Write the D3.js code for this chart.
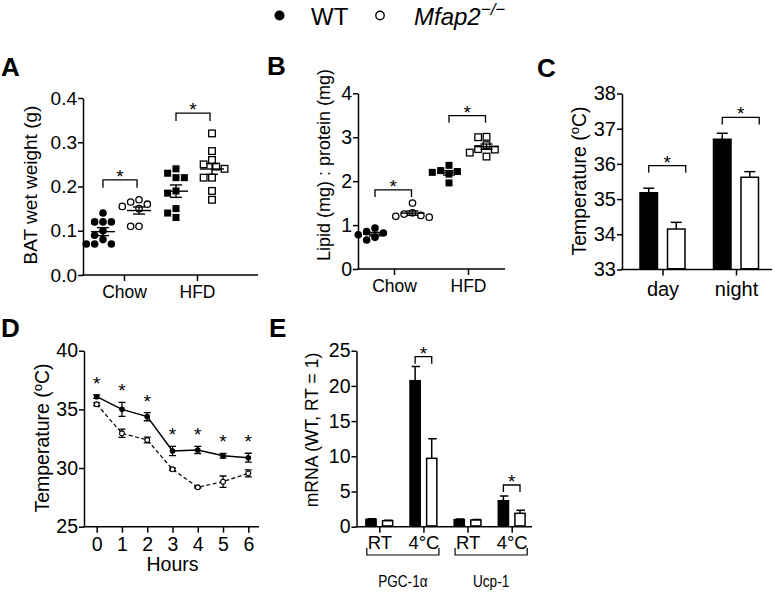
<!DOCTYPE html>
<html><head><meta charset="utf-8">
<script src="https://cdn.jsdelivr.net/npm/d3@7"></script>
<style>
body{margin:0;background:#fff}
svg{display:block}
text{font-family:"Liberation Sans",Arial,Helvetica,sans-serif;fill:#000}
</style>
</head><body>
<svg id="c" width="774" height="593"></svg>
<script>
// ---------------- DATA ----------------
const seriesNames = ["WT", "Mfap2-/-"];
// Panel A: BAT wet weight (g)
const A_groups = ["Chow", "HFD"];
const A_ticks = [0, 0.1, 0.2, 0.3, 0.4];
const A_WT_Chow = [0.14, 0.12, 0.12, 0.12, 0.10, 0.09, 0.08, 0.07, 0.07, 0.07];
const A_KO_Chow = [0.17, 0.165, 0.16, 0.155, 0.15, 0.11, 0.11];
const A_WT_HFD = [0.24, 0.23, 0.22, 0.22, 0.19, 0.185, 0.15, 0.14, 0.13];
const A_KO_HFD = [0.32, 0.28, 0.26, 0.25, 0.245, 0.24, 0.22, 0.22, 0.19, 0.17];
const A_sem = [0.009, 0.008, 0.014, 0.012];      // WT Chow, KO Chow, WT HFD, KO HFD
const A_sigLevel = [0.215, 0.366];
// Panel B: Lipid : protein
const B_groups = ["Chow", "HFD"];
const B_ticks = [0, 1, 2, 3, 4];
const B_WT_Chow = [0.93, 0.85, 0.82, 0.78, 0.72, 0.66];
const B_KO_Chow = [1.5, 1.28, 1.25, 1.22, 1.2, 1.18];
const B_WT_HFD = [2.36, 2.24, 2.22, 2.2, 2.16, 1.96];
const B_KO_HFD = [3.01, 3.0, 2.82, 2.73, 2.72, 2.65, 2.56];
const B_sem = [0.04, 0.05, 0.05, 0.06];
const B_sigLevel = [1.8, 3.49];
// Panel C: Temperature day / night
const C_cats = ["day", "night"];
const C_ticks = [33, 34, 35, 36, 37, 38];
const C_WT = [35.18, 36.70];
const C_WT_err = [0.13, 0.17];
const C_KO = [34.15, 35.62];
const C_KO_err = [0.19, 0.16];
const C_sigLevel = [35.95, 37.32];
// Panel D: Temperature over hours in cold
const D_hours = [0, 1, 2, 3, 4, 5, 6];
const D_ticks = [25, 30, 35, 40];
const D_WT = [36.08, 35.0, 34.38, 31.45, 31.54, 31.05, 30.88];
const D_WT_err = [0.15, 0.6, 0.35, 0.4, 0.3, 0.2, 0.38];
const D_KO = [35.43, 32.96, 32.39, 29.89, 28.36, 28.84, 29.55];
const D_KO_err = [0.12, 0.35, 0.25, 0.1, 0.06, 0.48, 0.3];
// Panel E: mRNA
const E_genes = ["PGC-1\u03b1", "Ucp-1"];
const E_conds = ["RT", "4\u00b0C"];
const E_ticks = [0, 5, 10, 15, 20, 25];
const E_WT = [1.05, 20.74, 1.0, 3.69];
const E_WT_err = [0.08, 2.0, 0.08, 0.67];
const E_KO = [0.85, 9.71, 0.95, 1.9];
const E_KO_err = [0.08, 2.8, 0.08, 0.45];
const E_sig = [1, 3];              // index of bars with significance
const E_sigLevel = [24.15, 5.92];

// ---------------- HELPERS ----------------
const svg = d3.select("#c");
const SW = 1.5;

function styleAxis(g, fs) {
  g.selectAll("path.domain").attr("stroke", "#000").attr("stroke-width", SW);
  g.selectAll(".tick line").attr("stroke", "#000").attr("stroke-width", SW);
  g.selectAll(".tick text").attr("font-size", fs).attr("fill", "#000")
    .attr("font-family", '"Liberation Sans",Arial,sans-serif');
}
function yAxis(x, y, ticks, fmt, fs) {
  const g = svg.append("g").attr("transform", `translate(${x},0)`)
    .call(d3.axisLeft(y).tickValues(ticks).tickFormat(fmt).tickSize(5).tickPadding(1).tickSizeOuter(0));
  styleAxis(g, fs);
  return g;
}
function xAxis(x0, x1, yPos, scale, fmt, fs, pad) {
  const g = svg.append("g").attr("transform", `translate(0,${yPos})`)
    .call(d3.axisBottom(scale).tickFormat(fmt).tickSize(6).tickPadding(pad).tickSizeOuter(0));
  g.select("path.domain").remove();
  styleAxis(g, fs);
  g.append("line").attr("x1", x0 - SW / 2).attr("x2", x1).attr("y1", 0).attr("y2", 0)
    .attr("stroke", "#000").attr("stroke-width", SW);
  return g;
}
function yLabel(cx, cy, fs, build) {
  const t = svg.append("text").attr("transform", `translate(${cx},${cy}) rotate(-90)`)
    .attr("text-anchor", "middle").attr("font-size", fs);
  build(t);
  return t;
}
function panelLetter(x, y, s) {
  svg.append("text").attr("x", x).attr("y", y).attr("font-size", 26).attr("font-weight", "bold").text(s);
}
function star(x, yBase) {
  svg.append("text").attr("x", x).attr("y", yBase).attr("text-anchor", "middle")
    .attr("font-size", 19).text("*");
}
function sigBracket(x0, x1, yTop, drop) {
  svg.append("path").attr("d", `M${x0},${yTop + drop}V${yTop}H${x1}V${yTop + drop}`)
    .attr("fill", "none").attr("stroke", "#000").attr("stroke-width", 1.3);
  star((x0 + x1) / 2, yTop + 3);
}
function swarm(vals, y, r) {
  const pts = vals.map(v => ({ v, py: y(v) })).sort((a, b) => a.py - b.py);
  const placed = [];
  const s = r * 1.1;
  const cands = [0];
  for (let k = 1; k < 12; k++) { cands.push(-k * s, k * s); }
  pts.forEach(p => {
    for (const c of cands) {
      if (placed.every(q => Math.hypot(q.dx - c, q.py - p.py) >= 2 * r * 1.02)) { p.dx = c; break; }
    }
    placed.push(p);
  });
  return pts;
}
function scatterGroup(cx, vals, y, sem, shape, filled, r) {
  const pts = swarm(vals, y, r);
  const g = svg.append("g");
  pts.forEach(p => {
    if (shape === "circle") {
      g.append("circle").attr("cx", cx + p.dx).attr("cy", p.py).attr("r", filled ? r : r - 0.6)
        .attr("fill", filled ? "#000" : "#fff").attr("stroke", "#000").attr("stroke-width", filled ? 0 : 1.3);
    } else {
      const a = filled ? r * 1.85 : r * 1.75;
      g.append("rect").attr("x", cx + p.dx - a / 2).attr("y", p.py - a / 2).attr("width", a).attr("height", a)
        .attr("fill", filled ? "#000" : "#fff").attr("stroke", "#000").attr("stroke-width", filled ? 0 : 1.3);
    }
  });
  const m = d3.mean(vals);
  const ln = (x1, y1, x2, y2) => g.append("line").attr("x1", x1).attr("y1", y1).attr("x2", x2).attr("y2", y2)
    .attr("stroke", "#000").attr("stroke-width", 1.4);
  ln(cx - 12, y(m), cx + 12, y(m));
  ln(cx, y(m - sem), cx, y(m + sem));
  ln(cx - 6, y(m - sem), cx + 6, y(m - sem));
  ln(cx - 6, y(m + sem), cx + 6, y(m + sem));
}

// ---------------- LEGEND ----------------
svg.append("circle").attr("cx", 279.5).attr("cy", 15.5).attr("r", 5).attr("fill", "#000");
svg.append("text").attr("x", 311).attr("y", 25).attr("font-size", 24).text(seriesNames[0]);
svg.append("circle").attr("cx", 380).attr("cy", 15.5).attr("r", 4.2).attr("fill", "#fff").attr("stroke", "#000").attr("stroke-width", 1.4);
const lg = svg.append("text").attr("x", 414).attr("y", 25).attr("font-size", 24);
lg.append("tspan").attr("font-style", "italic").text("Mfap2");
lg.append("tspan").attr("font-style", "italic").attr("font-size", 17).attr("dy", -10).text("\u2212/\u2212");

// ---------------- PANEL A ----------------
panelLetter(1, 76, "A");
{
  const y = d3.scaleLinear().domain([0, 0.4]).range([275, 98]);
  const x = d3.scalePoint().domain(A_groups).range([124, 197]);
  const sub = d3.scalePoint().domain(seriesNames).range([-21, 15]);
  yAxis(83, y, A_ticks, d3.format(".1f"), 19);
  xAxis(83, 258, 275, x, d => d, 17.5, 5);
  yLabel(37, 185, 19, t => t.text("BAT wet weight (g)"));
  const groups = [[A_WT_Chow, A_KO_Chow], [A_WT_HFD, A_KO_HFD]];
  groups.forEach((pair, gi) => {
    const shape = gi === 0 ? "circle" : "square";
    pair.forEach((vals, si) => {
      scatterGroup(x(A_groups[gi]) + sub(seriesNames[si]), vals, y, A_sem[gi * 2 + si], shape, si === 0, 3.8);
    });
    sigBracket(x(A_groups[gi]) + sub(seriesNames[0]), x(A_groups[gi]) + sub(seriesNames[1]) - 2, y(A_sigLevel[gi]), 8);
  });
}

// ---------------- PANEL B ----------------
panelLetter(267, 75, "B");
{
  const y = d3.scaleLinear().domain([0, 4]).range([269, 93.3]);
  const x = d3.scalePoint().domain(B_groups).range([394, 468]);
  const sub = d3.scalePoint().domain(seriesNames).range([-19, 18.5]);
  yAxis(358, y, B_ticks, d3.format("d"), 19.5);
  xAxis(358, 505, 269, x, d => d, 17.5, 5);
  yLabel(330, 165, 18, t => t.text("Lipid (mg) : protein (mg)"));
  const groups = [[B_WT_Chow, B_KO_Chow], [B_WT_HFD, B_KO_HFD]];
  groups.forEach((pair, gi) => {
    const shape = gi === 0 ? "circle" : "square";
    pair.forEach((vals, si) => {
      scatterGroup(x(B_groups[gi]) + sub(seriesNames[si]), vals, y, B_sem[gi * 2 + si], shape, si === 0, 3.8);
    });
    sigBracket(x(B_groups[gi]) + sub(seriesNames[0]), x(B_groups[gi]) + sub(seriesNames[1]) - 1, y(B_sigLevel[gi]), 7);
  });
}

// ---------------- PANEL C ----------------
panelLetter(537, 77, "C");
{
  const y = d3.scaleLinear().domain([33, 38]).range([269.5, 93.5]);
  const x = d3.scalePoint().domain(C_cats).range([662.5, 736]);
  const sub = d3.scalePoint().domain(seriesNames).range([-13.75, 13.75]);
  const bw = 19;
  yAxis(622, y, C_ticks, d3.format("d"), 20);
  xAxis(622, 772, 269.5, x, d => d, 20, 6);
  yLabel(586, 181, 19.5, t => {
    t.append("tspan").text("Temperature (");
    t.append("tspan").attr("font-size", 13).attr("dy", -7).text("o");
    t.append("tspan").attr("dy", 7).text("C)");
  });
  const vals = [C_WT, C_KO], errs = [C_WT_err, C_KO_err];
  C_cats.forEach((c, ci) => {
    vals.forEach((arr, si) => {
      const cx = x(c) + sub(seriesNames[si]);
      svg.append("line").attr("x1", cx).attr("x2", cx).attr("y1", y(arr[ci])).attr("y2", y(arr[ci] + errs[si][ci]))
        .attr("stroke", "#000").attr("stroke-width", 1.5);
      svg.append("line").attr("x1", cx - 5.5).attr("x2", cx + 5.5).attr("y1", y(arr[ci] + errs[si][ci])).attr("y2", y(arr[ci] + errs[si][ci]))
        .attr("stroke", "#000").attr("stroke-width", 1.5);
      svg.append("rect").attr("x", cx - bw / 2 + 0.75).attr("y", y(arr[ci])).attr("width", bw - 1.5)
        .attr("height", y(33) - y(arr[ci]) - 0.75)
        .attr("fill", si === 0 ? "#000" : "#fff").attr("stroke", "#000").attr("stroke-width", 1.5);
    });
    sigBracket(x(c) + sub(seriesNames[0]), x(c) + sub(seriesNames[1]) + bw / 2, y(C_sigLevel[ci]), 7);
  });
}

// ---------------- PANEL D ----------------
panelLetter(1, 337, "D");
{
  const y = d3.scaleLinear().domain([25, 40]).range([526.7, 350.7]);
  const x = d3.scaleLinear().domain([0, 6]).range([96.7, 248.3]);
  yAxis(84, y, D_ticks, d3.format("d"), 19.5);
  const xa = svg.append("g").attr("transform", "translate(0,526.7)")
    .call(d3.axisBottom(x).tickValues(D_hours).tickFormat(d3.format("d")).tickSize(6).tickPadding(4).tickSizeOuter(0));
  xa.select("path.domain").remove();
  styleAxis(xa, 19.5);
  xa.append("line").attr("x1", 84 - SW / 2).attr("x2", 259).attr("stroke", "#000").attr("stroke-width", SW);
  svg.append("text").attr("x", (x(0) + x(6)) / 2).attr("y", 571).attr("text-anchor", "middle").attr("font-size", 19.5).text("Hours");
  yLabel(49, 438, 19.5, t => {
    t.append("tspan").text("Temperature (");
    t.append("tspan").attr("font-size", 13).attr("dy", -7).text("o");
    t.append("tspan").attr("dy", 7).text("C)");
  });
  const line = d3.line().x((d, i) => x(D_hours[i])).y(d => y(d));
  svg.append("path").attr("d", line(D_WT)).attr("fill", "none").attr("stroke", "#000").attr("stroke-width", 1.5);
  svg.append("path").attr("d", line(D_KO)).attr("fill", "none").attr("stroke", "#000").attr("stroke-width", 1.2)
    .attr("stroke-dasharray", "4,2.5");
  const errDraw = (vals, errs) => {
    vals.forEach((v, i) => {
      const cx = x(D_hours[i]);
      const p = `M${cx},${y(v - errs[i])}V${y(v + errs[i])}M${cx - 3.5},${y(v - errs[i])}H${cx + 3.5}M${cx - 3.5},${y(v + errs[i])}H${cx + 3.5}`;
      svg.append("path").attr("d", p).attr("stroke", "#000").attr("stroke-width", 1.3).attr("fill", "none");
    });
  };
  errDraw(D_WT, D_WT_err);
  errDraw(D_KO, D_KO_err);
  D_WT.forEach((v, i) => svg.append("circle").attr("cx", x(D_hours[i])).attr("cy", y(v)).attr("r", 2.8).attr("fill", "#000"));
  D_KO.forEach((v, i) => svg.append("circle").attr("cx", x(D_hours[i])).attr("cy", y(v)).attr("r", 2.4)
    .attr("fill", "#fff").attr("stroke", "#000").attr("stroke-width", 1.1));
  D_WT.forEach((v, i) => star(x(D_hours[i]), y(v + D_WT_err[i]) - 5));
}

// ---------------- PANEL E ----------------
panelLetter(269, 337, "E");
{
  const y = d3.scaleLinear().domain([0, 25]).range([526.7, 350.7]);
  const keys = [];
  E_genes.forEach(g => E_conds.forEach(c => keys.push(g + "|" + c)));
  const x = d3.scalePoint().domain(keys).range([379.3, 511.7]);
  const sub = d3.scalePoint().domain(seriesNames).range([-8.3, 8.3]);
  const bw = 11.7;
  yAxis(356.5, y, E_ticks, d3.format("d"), 19.5);
  xAxis(356.5, 532, 526.7, x, d => d.split("|")[1], 18.5, 3);
  yLabel(318, 430, 17.5, t => t.text("mRNA (WT, RT = 1)"));
  const vals = [E_WT, E_KO], errs = [E_WT_err, E_KO_err];
  keys.forEach((k, ki) => {
    vals.forEach((arr, si) => {
      const cx = x(k) + sub(seriesNames[si]);
      const top = y(arr[ki] + errs[si][ki]);
      svg.append("path").attr("d", `M${cx},${y(arr[ki])}V${top}M${cx - 3.5},${top}H${cx + 5}`)
        .attr("stroke", "#000").attr("stroke-width", 1.5).attr("fill", "none");
      svg.append("rect").attr("x", cx - bw / 2 + 0.75).attr("y", y(arr[ki])).attr("width", bw - 1.5)
        .attr("height", y(0) - y(arr[ki]) - 0.75)
        .attr("fill", si === 0 ? "#000" : "#fff").attr("stroke", "#000").attr("stroke-width", 1.5);
    });
  });
  E_sig.forEach((ki, j) => {
    sigBracket(x(keys[ki]) + sub(seriesNames[0]), x(keys[ki]) + sub(seriesNames[1]), y(E_sigLevel[j]), 7);
  });
  E_genes.forEach((g, gi) => {
    const x0 = x(g + "|" + E_conds[0]) - 12.5, x1 = x(g + "|" + E_conds[1]) + 15.5;
    svg.append("path").attr("d", `M${x0},548V555H${x1}V548`).attr("fill", "none").attr("stroke", "#000").attr("stroke-width", 1.2);
    svg.append("text").attr("x", (x0 + x1) / 2).attr("y", 587).attr("text-anchor", "middle").attr("font-size", 16)
      .attr("transform", `translate(${(x0 + x1) / 2},0) scale(0.85,1) translate(${-(x0 + x1) / 2},0)`).text(g);
  });
}
</script>
</body></html>
